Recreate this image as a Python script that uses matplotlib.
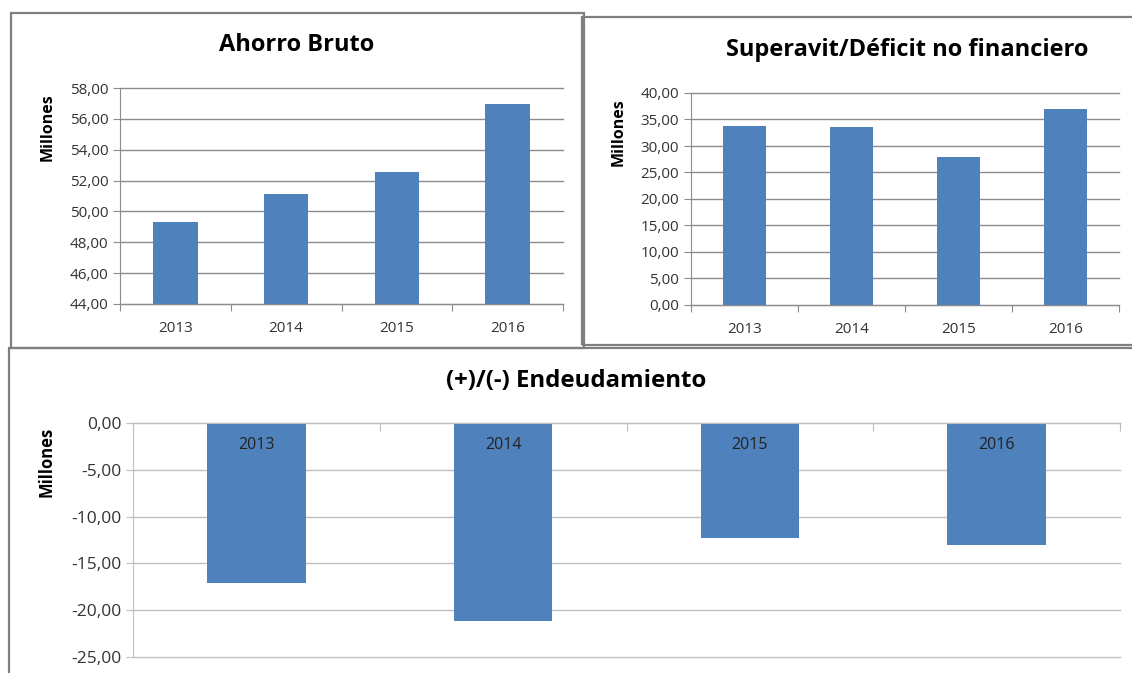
import matplotlib
matplotlib.use("Agg")
import matplotlib.pyplot as plt
from matplotlib.patches import Rectangle
from matplotlib.ticker import FuncFormatter, MultipleLocator
import numpy as np

years = ["2013", "2014", "2015", "2016"]
ahorro_bruto = [49.3, 51.1, 52.55, 56.95]
superavit = [33.75, 33.6, 28.0, 36.9]
endeudamiento = [-17.1, -21.2, -12.3, -13.0]

W, H = 1132, 673
BAR = "#4F81BD"
GRID = "#8C8C8C"
GRID_LIGHT = "#BFBFBF"
TXT = "#333333"
plt.rcParams['font.family'] = ['Open Sans', 'DejaVu Sans']

fig = plt.figure(figsize=(W / 100, H / 100), dpi=100)
fig.patch.set_facecolor("white")


def ax_at(x0, y0, x1, y1):
    return fig.add_axes([x0 / W, 1 - y1 / H, (x1 - x0) / W, (y1 - y0) / H])


def frame(x0, y0, x1, y1):
    fig.patches.append(Rectangle((x0 / W, 1 - y1 / H), (x1 - x0) / W, (y1 - y0) / H,
                                 transform=fig.transFigure, fill=False,
                                 edgecolor="#7F7F7F", linewidth=1.6, zorder=0))


fmt = FuncFormatter(lambda v, p: f"{v:.2f}".replace(".", ","))


def style(ax, ymin, ymax, step, gridc=GRID, fs=11):
    ax.set_ylim(ymin, ymax)
    ax.yaxis.set_major_locator(MultipleLocator(step))
    ax.yaxis.set_major_formatter(fmt)
    ax.grid(axis="y", color=gridc, linewidth=1.0)
    ax.set_axisbelow(True)
    for s in ["top", "right"]:
        ax.spines[s].set_visible(False)
    ax.spines["left"].set_color(gridc)
    ax.spines["bottom"].set_color(gridc)
    ax.tick_params(axis="y", colors=gridc, labelcolor=TXT, length=5, labelsize=fs)
    ax.tick_params(axis="x", colors=gridc, labelcolor=TXT, length=5, labelsize=fs)
    for gl in ax.get_ygridlines():
        gl.set_clip_on(False)


def cat_axis(ax, n):
    ax.set_xlim(-0.5, n - 0.5)
    ax.set_xticks(np.arange(n + 1) - 0.5)
    ax.set_xticklabels([])
    ax.set_xticks(np.arange(n), minor=True)


x = np.arange(len(years))

# ---- Ahorro Bruto
frame(11, 13, 584, 348)
ax1 = ax_at(120, 88, 563, 304)
ax1.bar(x, ahorro_bruto, width=0.4, color=BAR, zorder=2)
style(ax1, 44, 58, 2)
cat_axis(ax1, len(years))
ax1.set_xticklabels(years, minor=True)
ax1.tick_params(axis="x", which="minor", length=0, labelsize=11, labelcolor=TXT, pad=12)
fig.text(297 / W, 1 - 45 / H, "Ahorro Bruto", ha="center", va="center",
         fontsize=17, fontweight="bold")
fig.text(48 / W, 1 - 127 / H, "Millones", ha="center", va="center", rotation=90,
         fontsize=11.5, fontweight="bold")

# ---- Superavit
frame(582, 17, 1140, 345)
ax2 = ax_at(691, 93, 1119, 305)
ax2.bar(x, superavit, width=0.4, color=BAR, zorder=2)
style(ax2, 0, 40, 5)
cat_axis(ax2, len(years))
ax2.set_xticklabels(years, minor=True)
ax2.tick_params(axis="x", which="minor", length=0, labelsize=11, labelcolor=TXT, pad=12)
fig.text(907 / W, 1 - 50 / H, "Superavit/Déficit no financiero", ha="center", va="center",
         fontsize=17, fontweight="bold")
fig.text(619 / W, 1 - 132 / H, "Millones", ha="center", va="center", rotation=90,
         fontsize=11.5, fontweight="bold")

# ---- Endeudamiento
frame(9, 348, 1140, 690)
ax3 = ax_at(133, 423, 1120, 657)
ax3.bar(x, endeudamiento, width=0.4, color=BAR, zorder=2)
style(ax3, -25, 0, 5, gridc=GRID_LIGHT, fs=12.5)
ax3.spines["bottom"].set_visible(False)
ax3.spines["top"].set_visible(True)
ax3.spines["top"].set_color(GRID_LIGHT)
cat_axis(ax3, len(years))
ax3.xaxis.set_ticks_position("top")
ax3.tick_params(axis="x", which="major", direction="in", length=6)
ax3.tick_params(axis="x", which="minor", length=0)
for xi, lab in zip(x, years):
    ax3.text(xi, -2.35, lab, ha="center", va="center", fontsize=11.5, color="#222222")
fig.text(576 / W, 1 - 381 / H, "(+)/(-) Endeudamiento", ha="center", va="center",
         fontsize=17.3, fontweight="bold")
fig.text(47 / W, 1 - 462 / H, "Millones", ha="center", va="center", rotation=90,
         fontsize=12, fontweight="bold")

fig.savefig("out.png", dpi=100)
